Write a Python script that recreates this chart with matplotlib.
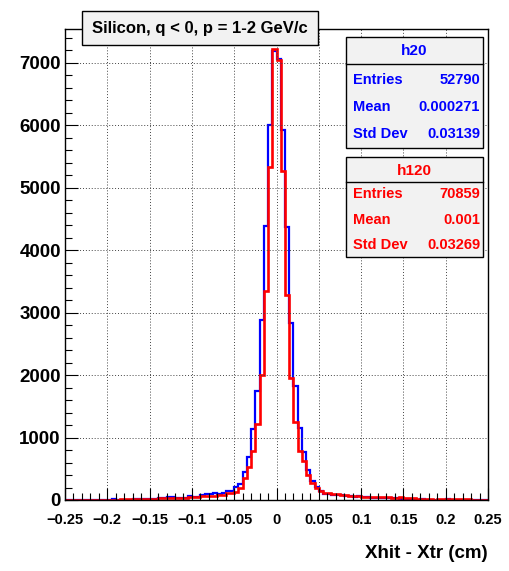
import numpy as np
import matplotlib
matplotlib.use("Agg")
import matplotlib.pyplot as plt
import matplotlib.patches as patches
from matplotlib.lines import Line2D
from matplotlib.ticker import MultipleLocator, FuncFormatter

# binning of both histograms (cm)
X_MIN, X_MAX, N_BINS = -0.25, 0.25, 100

# h20 (blue) bin contents
h20_counts = [
    0, 0, 2, 0, 3, 0, 2, 4, 3, 5,
    4, 22, 6, 5, 8, 7, 10, 9, 12, 14,
    18, 20, 27, 25, 52, 50, 30, 28, 30, 62,
    45, 48, 88, 92, 100, 110, 102, 115, 145, 150,
    210, 263, 444, 689, 1135, 1751, 2887, 4391, 6008, 7180,
    7064, 5917, 4375, 2834, 1823, 1148, 761, 480, 300, 213,
    149, 100, 96, 80, 82, 78, 64, 60, 55, 58,
    50, 45, 40, 38, 35, 30, 28, 26, 25, 22,
    15, 12, 10, 8, 10, 6, 5, 4, 0, 3,
    20, 4, 3, 2, 1, 2, 0, 1, 0, 0,
]

# h120 (red) bin contents
h120_counts = [
    0, 0, 1, 0, 0, 2, 0, 1, 2, 1,
    2, 3, 4, 14, 15, 14, 16, 15, 18, 20,
    22, 24, 26, 27, 28, 30, 30, 32, 40, 43,
    43, 45, 60, 64, 66, 68, 80, 85, 110, 120,
    136, 194, 354, 530, 778, 1215, 1998, 3338, 5332, 7224,
    7040, 5268, 3274, 1946, 1255, 786, 617, 400, 270, 190,
    144, 117, 110, 95, 90, 85, 75, 72, 70, 65,
    55, 52, 50, 48, 45, 45, 42, 40, 38, 53,
    28, 26, 25, 24, 22, 20, 22, 0, 18, 16,
    15, 14, 12, 12, 10, 10, 8, 8, 6, 5,
]

stat_names = ["Entries", "Mean", "Std Dev"]
h20_stats = ["52790", "0.000271", "0.03139"]
h120_stats = ["70859", "0.001", "0.03269"]

title_text = "Silicon, q < 0, p = 1-2 GeV/c"
x_title = "Xhit - Xtr (cm)"

plt.rcParams["font.family"] = ["Liberation Sans", "DejaVu Sans"]
plt.rcParams["font.weight"] = "bold"

# canvas size in pixels, helpers to place things like on the ROOT canvas
W, H = 509, 571


def fx(px):
    return px / W


def fy(py):
    return 1 - py / H


def xfmt(v, pos):
    v = round(v, 3)
    if abs(v) < 1e-9:
        return "0"
    return ("%g" % v).replace("-", "\u2212")


fig = plt.figure(figsize=(W / 100, H / 100), dpi=100)
ax = fig.add_axes([fx(65), fy(500), fx(488) - fx(65), fy(29) - fy(500)])

edges = np.linspace(X_MIN, X_MAX, N_BINS + 1)
ax.stairs(h20_counts, edges, color="#0000ff", linewidth=1.6)
ax.stairs(h120_counts, edges, color="#ff0000", linewidth=1.9)

ax.set_xlim(X_MIN, X_MAX)
ax.set_ylim(0, 7540)
ax.xaxis.set_major_locator(MultipleLocator(0.05))
ax.xaxis.set_minor_locator(MultipleLocator(0.01))
ax.yaxis.set_major_locator(MultipleLocator(1000))
ax.yaxis.set_minor_locator(MultipleLocator(200))
ax.xaxis.set_major_formatter(FuncFormatter(xfmt))

ax.tick_params(which="both", direction="in", top=False, right=False, width=0.8)
ax.tick_params(which="major", length=9)
ax.tick_params(which="minor", length=5)
ax.tick_params(axis="x", labelsize=10.5, pad=9)
ax.tick_params(axis="y", labelsize=13.5, pad=3)
ax.grid(True, which="major", color="#444444", linestyle=(0, (1, 2)), linewidth=0.7)
for sp in ax.spines.values():
    sp.set_linewidth(1.0)

fig.text(fx(488), fy(553), x_title, ha="right", va="center", fontsize=13.5)

# title box
fig.add_artist(patches.Rectangle((fx(82), fy(45)), fx(318) - fx(82), fy(11) - fy(45),
                                 transform=fig.transFigure, facecolor="#f2f2f2",
                                 edgecolor="black", linewidth=1.0))
fig.text(fx(200), fy(28), title_text, ha="center", va="center", fontsize=12)


def stats_box(name, values, color, top, sep, bottom, head_y, row_ys):
    fig.add_artist(patches.Rectangle((fx(346), fy(bottom)), fx(483) - fx(346), fy(top) - fy(bottom),
                                     transform=fig.transFigure, facecolor="#f2f2f2",
                                     edgecolor="black", linewidth=1.0))
    fig.add_artist(Line2D([fx(346), fx(483)], [fy(sep), fy(sep)],
                          transform=fig.transFigure, color="black", linewidth=1.0))
    fig.text(fx(414.5), fy(head_y), name, ha="center", va="center", fontsize=11, color=color)
    for label, val, yy in zip(stat_names, values, row_ys):
        fig.text(fx(353), fy(yy), label, ha="left", va="center", fontsize=10.5, color=color)
        fig.text(fx(480), fy(yy), val, ha="right", va="center", fontsize=10.5, color=color)


stats_box("h20", h20_stats, "#0000ff", 37, 64, 148, 51, [80, 107, 134])
stats_box("h120", h120_stats, "#ff0000", 157, 182, 257, 171, [194, 220, 245])

fig.savefig("out.png", dpi=100)
